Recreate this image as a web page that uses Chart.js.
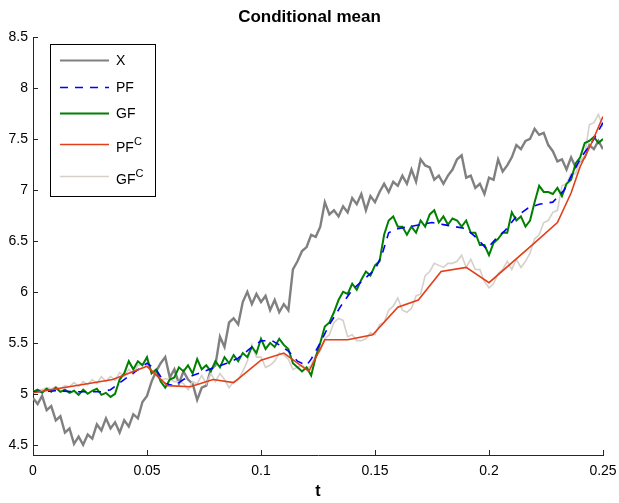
<!DOCTYPE html>
<html>
<head>
<meta charset="utf-8">
<title>Conditional mean</title>
<script src="https://cdn.jsdelivr.net/npm/chart.js@4/dist/chart.umd.min.js"></script>
<style>
  html, body { margin: 0; padding: 0; background: #fff; }
  #wrap { width: 619px; height: 503px; }
</style>
</head>
<body>
<div id="wrap"><canvas id="chart" width="619" height="503"></canvas></div>
<script>
// --- DATA ---
const tGrid = [
  0, 0.002, 0.004, 0.006, 0.008, 0.010, 0.012, 0.014, 0.016, 0.018,
  0.020, 0.022, 0.024, 0.026, 0.028, 0.030, 0.032, 0.034, 0.036, 0.038,
  0.040, 0.042, 0.044, 0.046, 0.048, 0.050, 0.052, 0.054, 0.056, 0.058,
  0.060, 0.062, 0.064, 0.066, 0.068, 0.070, 0.072, 0.074, 0.076, 0.078,
  0.080, 0.082, 0.084, 0.086, 0.088, 0.090, 0.092, 0.094, 0.096, 0.098,
  0.100, 0.102, 0.104, 0.106, 0.108, 0.110, 0.112, 0.114, 0.116, 0.118,
  0.120, 0.122, 0.124, 0.126, 0.128, 0.130, 0.132, 0.134, 0.136, 0.138,
  0.140, 0.142, 0.144, 0.146, 0.148, 0.150, 0.152, 0.154, 0.156, 0.158,
  0.160, 0.162, 0.164, 0.166, 0.168, 0.170, 0.172, 0.174, 0.176, 0.178,
  0.180, 0.182, 0.184, 0.186, 0.188, 0.190, 0.192, 0.194, 0.196, 0.198,
  0.200, 0.202, 0.204, 0.206, 0.208, 0.210, 0.212, 0.214, 0.216, 0.218,
  0.220, 0.222, 0.224, 0.226, 0.228, 0.230, 0.232, 0.234, 0.236, 0.238,
  0.240, 0.242, 0.244, 0.246, 0.248, 0.250
];

// X (observed signal)
const xValues = [
  4.96, 4.90, 4.98, 4.84, 4.88, 4.74, 4.78, 4.62, 4.66, 4.51,
  4.58, 4.50, 4.60, 4.56, 4.70, 4.64, 4.76, 4.66, 4.72, 4.62,
  4.74, 4.68, 4.80, 4.76, 4.92, 4.98, 5.12, 5.22, 5.30, 5.36,
  5.16, 5.24, 5.10, 5.22, 5.14, 5.10, 4.94, 5.06, 5.08, 5.24,
  5.28, 5.56, 5.46, 5.70, 5.74, 5.68, 5.90, 6.00, 5.88, 5.98,
  5.90, 5.96, 5.82, 5.92, 5.80, 5.88, 5.82, 6.22, 6.30, 6.40,
  6.44, 6.56, 6.54, 6.64, 6.88, 6.76, 6.80, 6.74, 6.84, 6.78,
  6.92, 6.86, 6.96, 6.80, 6.94, 6.88, 6.98, 7.06, 6.98, 7.08,
  7.04, 7.14, 7.06, 7.20, 7.08, 7.30, 7.24, 7.22, 7.10, 7.14,
  7.06, 7.14, 7.20, 7.30, 7.34, 7.12, 7.14, 7.02, 7.06, 6.96,
  7.12, 7.10, 7.30, 7.18, 7.24, 7.32, 7.44, 7.40, 7.48, 7.50,
  7.60, 7.54, 7.56, 7.44, 7.38, 7.28, 7.30, 7.20, 7.32, 7.22,
  7.28, 7.32, 7.44, 7.40, 7.48, 7.40
];

// GF
const gfValues = [
  5.02, 5.04, 5.01, 5.05, 5.02, 5.06, 5.02, 5.04, 5.01, 5.03,
  4.99, 5.04, 5.00, 5.03, 5.05, 4.99, 5.01, 4.97, 5.00, 5.14,
  5.20, 5.32, 5.24, 5.32, 5.28, 5.36, 5.20, 5.24, 5.12, 5.06,
  5.14, 5.16, 5.26, 5.22, 5.28, 5.20, 5.34, 5.24, 5.28, 5.22,
  5.32, 5.26, 5.36, 5.30, 5.38, 5.32, 5.40, 5.36, 5.46, 5.40,
  5.54, 5.44, 5.50, 5.46, 5.54, 5.48, 5.44, 5.30, 5.26, 5.22,
  5.26, 5.18, 5.36, 5.50, 5.66, 5.70, 5.80, 5.92, 6.00, 5.98,
  6.08, 6.02, 6.12, 6.20, 6.16, 6.26, 6.30, 6.56, 6.70, 6.74,
  6.64, 6.64, 6.56, 6.64, 6.58, 6.70, 6.64, 6.76, 6.80, 6.68,
  6.74, 6.66, 6.72, 6.70, 6.64, 6.70, 6.58, 6.58, 6.46, 6.46,
  6.36, 6.48, 6.52, 6.58, 6.58, 6.78, 6.70, 6.74, 6.64, 6.70,
  6.88, 7.04, 6.98, 6.98, 6.96, 7.02, 6.94, 7.06, 7.10, 7.26,
  7.32, 7.46, 7.48, 7.52, 7.46, 7.50
];

// GF^C
const gfcValues = [
  5.02, 5.04, 5.04, 5.06, 5.05, 5.07, 5.05, 5.08, 5.07, 5.11,
  5.07, 5.12, 5.09, 5.14, 5.10, 5.17, 5.12, 5.17, 5.13, 5.21,
  5.17, 5.24, 5.19, 5.28, 5.29, 5.34, 5.22, 5.19, 5.13, 5.15,
  5.14, 5.12, 5.12, 5.10, 5.04, 5.12, 5.10, 5.18, 5.10, 5.20,
  5.12, 5.20, 5.14, 5.06, 5.12, 5.14, 5.22, 5.32, 5.48, 5.36,
  5.36, 5.26, 5.28, 5.32, 5.40, 5.38, 5.34, 5.24, 5.26, 5.28,
  5.24, 5.28, 5.38, 5.42, 5.54, 5.58, 5.70, 5.74, 5.72, 5.56,
  5.58, 5.52, 5.52, 5.54, 5.60, 5.58, 5.68, 5.70, 5.82, 5.86,
  5.94, 5.82, 5.80, 5.84, 5.96, 5.98, 6.16, 6.20, 6.28, 6.26,
  6.24, 6.28, 6.28, 6.30, 6.36, 6.24, 6.32, 6.22, 6.22, 6.10,
  6.04, 6.08, 6.18, 6.22, 6.30, 6.22, 6.32, 6.24, 6.30, 6.38,
  6.52, 6.56, 6.68, 6.70, 6.78, 6.80, 7.04, 7.06, 7.16, 7.16,
  7.28, 7.34, 7.64, 7.66, 7.74, 7.62
];

// PF (dashed)
const tPF = [
  0, 0.01, 0.02, 0.03, 0.034, 0.04, 0.045, 0.05, 0.054, 0.058,
  0.062, 0.066, 0.07, 0.075, 0.08, 0.085, 0.09, 0.095, 0.1, 0.105,
  0.108, 0.112, 0.116, 0.12, 0.122, 0.126, 0.13, 0.135, 0.14, 0.145,
  0.15, 0.153, 0.156, 0.16, 0.165, 0.17, 0.175, 0.18, 0.185, 0.19,
  0.195, 0.199, 0.203, 0.207, 0.212, 0.217, 0.222, 0.228, 0.233, 0.237,
  0.241, 0.245, 0.25
];
const pfValues = [
  5.02, 5.03, 5.02, 5.02, 5.04, 5.14, 5.22, 5.30, 5.24, 5.10,
  5.08, 5.14, 5.18, 5.22, 5.26, 5.30, 5.35, 5.44, 5.52, 5.52,
  5.48, 5.42, 5.32, 5.28, 5.34, 5.50, 5.68, 5.86, 6.02, 6.12,
  6.22, 6.36, 6.58, 6.62, 6.64, 6.66, 6.68, 6.66, 6.64, 6.62,
  6.52, 6.42, 6.52, 6.60, 6.74, 6.82, 6.86, 6.88, 7.00, 7.18,
  7.34, 7.46, 7.66
];

// PF^C (piecewise)
const tPFC = [
  0, 0.035, 0.05, 0.059, 0.069, 0.079, 0.088, 0.1, 0.11, 0.121,
  0.128, 0.138, 0.149, 0.16, 0.169, 0.179, 0.19, 0.2, 0.22, 0.23,
  0.236, 0.24, 0.245, 0.25
];
const pfcValues = [
  5.01, 5.14, 5.27, 5.08, 5.07, 5.14, 5.11, 5.33, 5.40, 5.22,
  5.53, 5.53, 5.58, 5.85, 5.92, 6.20, 6.24, 6.09, 6.48, 6.68,
  6.97, 7.23, 7.46, 7.72
];

const xTicks = [0, 0.05, 0.1, 0.15, 0.2, 0.25];
const yTicks = [4.5, 5, 5.5, 6, 6.5, 7, 7.5, 8, 8.5];

const FONT = "'Liberation Sans', Arial, Helvetica, sans-serif";
const AXIS_COLOR = "#262626";

function pairs(ts, vs) {
  return ts.map((t, i) => ({ x: t, y: vs[i] }));
}

// --- PLUGINS ---
// MATLAB-style inward tick marks
const innerTicks = {
  id: "innerTicks",
  afterDraw(chart) {
    const { ctx, chartArea, scales } = chart;
    ctx.save();
    ctx.strokeStyle = AXIS_COLOR;
    ctx.lineWidth = 1;
    ctx.beginPath();
    xTicks.forEach((v) => {
      const px = Math.round(scales.x.getPixelForValue(v)) + 0.5;
      ctx.moveTo(px, chartArea.bottom);
      ctx.lineTo(px, chartArea.bottom - 5);
    });
    yTicks.forEach((v) => {
      const py = Math.round(scales.y.getPixelForValue(v)) + 0.5;
      ctx.moveTo(chartArea.left, py);
      ctx.lineTo(chartArea.left + 5, py);
    });
    ctx.stroke();
    ctx.restore();
  },
};

// boxed legend with superscripts
const boxLegend = {
  id: "boxLegend",
  afterDraw(chart) {
    const { ctx } = chart;
    const left = 50.5, top = 44.5, w = 105, h = 152;
    const rowY = [60, 87, 113, 144, 176];
    ctx.save();
    ctx.fillStyle = "#fff";
    ctx.fillRect(left, top, w, h);
    ctx.strokeStyle = "#000";
    ctx.lineWidth = 1;
    ctx.strokeRect(left, top, w, h);

    chart.data.datasets.slice().sort((a, b) => a.legendIndex - b.legendIndex).forEach((ds, i) => {
      const y = rowY[i];
      ctx.beginPath();
      ctx.strokeStyle = ds.borderColor;
      ctx.lineWidth = Math.min(ds.borderWidth, 1.8);
      ctx.setLineDash(ds.borderDash || []);
      ctx.moveTo(60, y + 0.5);
      ctx.lineTo(109, y + 0.5);
      ctx.stroke();
      ctx.setLineDash([]);

      ctx.fillStyle = "#000";
      ctx.textAlign = "left";
      ctx.textBaseline = "middle";
      ctx.font = "14px " + FONT;
      if (ds.sup) {
        const baseY = y + 4;
        ctx.fillText(ds.label, 116, baseY);
        const wBase = ctx.measureText(ds.label).width;
        ctx.font = "11px " + FONT;
        ctx.fillText(ds.sup, 116 + wBase, baseY - 6);
      } else {
        ctx.fillText(ds.label, 116, y + 1.5);
      }
    });
    ctx.restore();
  },
};

// --- CHART ---
const ctx = document.getElementById("chart").getContext("2d");
new Chart(ctx, {
  type: "line",
  data: {
    datasets: [
      {
        label: "PF", sup: "C", legendIndex: 3,
        data: pairs(tPFC, pfcValues),
        borderColor: "rgb(226, 62, 24)",
        borderWidth: 1.6,
        order: 1,
      },
      {
        label: "PF", legendIndex: 1,
        data: pairs(tPF, pfValues),
        borderColor: "rgb(0, 0, 255)",
        borderWidth: 1.6,
        borderDash: [8, 7],
        order: 2,
      },
      {
        label: "GF", legendIndex: 2,
        data: pairs(tGrid, gfValues),
        borderColor: "rgb(0, 128, 0)",
        borderWidth: 2,
        order: 3,
      },
      {
        label: "GF", sup: "C", legendIndex: 4,
        data: pairs(tGrid, gfcValues),
        borderColor: "rgb(214, 208, 202)",
        borderWidth: 1.6,
        order: 4,
      },
      {
        label: "X", legendIndex: 0,
        data: pairs(tGrid, xValues),
        borderColor: "rgb(128, 128, 128)",
        borderWidth: 2.4,
        order: 5,
      },
    ],
  },
  options: {
    responsive: false,
    animation: false,
    devicePixelRatio: 1,
    layout: { padding: 0 },
    elements: {
      point: { radius: 0 },
      line: { tension: 0, fill: false, borderJoinStyle: "miter" },
    },
    scales: {
      x: {
        type: "linear",
        min: 0,
        max: 0.25,
        afterBuildTicks: (scale) => {
          scale.ticks = xTicks.map((v) => ({ value: v }));
        },
        afterFit: (scale) => {
          scale.height = 48;
          scale.paddingLeft = 0;
          scale.paddingRight = 16;
        },
        grid: { display: true, drawOnChartArea: false, drawTicks: false },
        border: { display: true, color: AXIS_COLOR, width: 1 },
        ticks: {
          color: "#000",
          padding: 8,
          maxRotation: 0,
          font: { family: FONT, size: 14 },
          callback: (v) => String(v),
        },
        title: {
          display: true,
          text: "t",
          color: "#000",
          padding: { top: 0, bottom: 2 },
          font: { family: FONT, size: 16, weight: "bold" },
        },
      },
      y: {
        type: "linear",
        min: 4.4,
        max: 8.5,
        afterBuildTicks: (scale) => {
          scale.ticks = yTicks.map((v) => ({ value: v }));
        },
        afterFit: (scale) => {
          scale.width = 33;
        },
        grid: { display: true, drawOnChartArea: false, drawTicks: false },
        border: { display: true, color: AXIS_COLOR, width: 1 },
        ticks: {
          color: "#000",
          padding: 5,
          font: { family: FONT, size: 14 },
          callback: (v) => String(v),
        },
      },
    },
    plugins: {
      legend: { display: false },
      tooltip: { enabled: false },
      title: {
        display: true,
        text: "Conditional mean",
        color: "#000",
        padding: { top: 7, bottom: 9.6 },
        font: { family: FONT, size: 17, weight: "bold" },
      },
    },
  },
  plugins: [innerTicks, boxLegend],
});
</script>
</body>
</html>
